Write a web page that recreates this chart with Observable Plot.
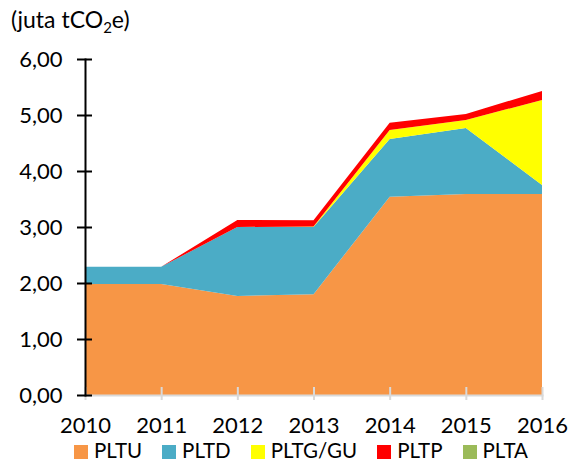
<!DOCTYPE html>
<html><head><meta charset="utf-8">
<script src="https://cdn.jsdelivr.net/npm/d3@7"></script>
<script src="https://cdn.jsdelivr.net/npm/@observablehq/plot@0.6"></script>
<style>
body{margin:0;background:#fff;font-family:Lato,sans-serif;}
#wrap{position:relative;width:569px;height:463px;}
#title{position:absolute;left:11px;top:8px;font-size:23px;line-height:1;color:#000;}
#title sub{font-size:15px;vertical-align:-5px;line-height:0;}
#legend{position:absolute;left:74px;top:438px;display:flex;font-size:20.5px;line-height:24px;height:24px;color:#000;}
#legend .it{display:flex;align-items:center;margin-right:20px;}
#legend .sw{width:14px;height:14px;margin-right:6px;margin-top:3px;}
#chart{position:absolute;left:0;top:0;}
</style></head>
<body><div id="wrap"><div id="chart"></div><div id="title">(juta tCO<sub>2</sub>e)</div><div id="legend"></div></div>
<script>
const years = [2010, 2011, 2012, 2013, 2014, 2015, 2016];
const types = ["PLTU", "PLTD", "PLTG/GU", "PLTP", "PLTA"];
const colors = ["#F79646", "#4BACC6", "#FFFF00", "#FF0000", "#9BBB59"];
const pltu = [1.98, 1.98, 1.77, 1.80, 3.54, 3.59, 3.59];
const pltd = [0.31, 0.31, 1.23, 1.20, 1.03, 1.18, 0.16];
const pltg = [0.00, 0.00, 0.00, 0.01, 0.16, 0.14, 1.52];
const pltp = [0.00, 0.00, 0.125, 0.11, 0.13, 0.11, 0.16];
const plta = [0, 0, 0, 0, 0, 0, 0];
const yTicks = [0, 1, 2, 3, 4, 5, 6];

const series = [pltu, pltd, pltg, pltp, plta];
const data = [];
types.forEach((t, i) => years.forEach((y, j) => data.push({year: y, type: t, value: series[i][j]})));

const fmt = d => d.toFixed(2).replace(".", ",");

const chart = Plot.plot({
  width: 569, height: 440,
  marginLeft: 85, marginRight: 27, marginTop: 59, marginBottom: 45,
  style: {fontFamily: "Lato, sans-serif", fontSize: "22px", color: "#000", background: "transparent"},
  x: {type: "linear", domain: [2010, 2016], label: null},
  y: {domain: [0, 6], label: null},
  color: {domain: types, range: colors},
  marks: [
    Plot.areaY(data, {x: "year", y: "value", fill: "type", z: "type", order: types}),
    Plot.frame({anchor: "bottom", stroke: "#d9d9d9", strokeWidth: 2}),
    Plot.axisX({ticks: years, tickSize: 13, dy: -8, stroke: "#d9d9d9", strokeWidth: 2, fill: "none", label: null}),
    Plot.axisX({ticks: years, tickFormat: "d", tickSize: 0, tickPadding: 22, fill: "#000", label: null}),
    Plot.frame({anchor: "left", stroke: "#000", strokeWidth: 2}),
    Plot.axisY({ticks: yTicks, tickSize: 15, dx: 7, stroke: "#000", strokeWidth: 2, fill: "none", label: null}),
    Plot.axisY({ticks: yTicks, tickFormat: fmt, tickSize: 0, tickPadding: 23, fill: "#000", label: null})
  ]
});
document.getElementById("chart").appendChild(chart);

const leg = document.getElementById("legend");
types.forEach((t, i) => {
  const it = document.createElement("div"); it.className = "it";
  const sw = document.createElement("div"); sw.className = "sw"; sw.style.background = colors[i];
  const tx = document.createElement("span"); tx.textContent = t;
  it.appendChild(sw); it.appendChild(tx); leg.appendChild(it);
});
</script></body></html>
